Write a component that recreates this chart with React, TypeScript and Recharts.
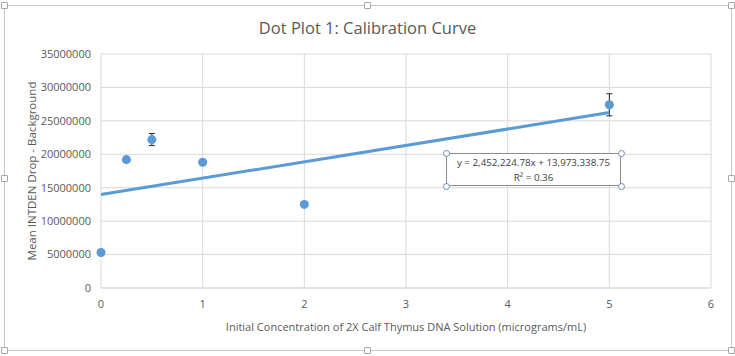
import {
  ScatterChart,
  Scatter,
  XAxis,
  YAxis,
  CartesianGrid,
  ErrorBar,
  Label,
} from "recharts";

// concentrations (micrograms/mL) and mean INTDEN values
const concentrations = [0, 0.25, 0.5, 1, 2, 5];
const meanIntden = [5300000, 19200000, 22200000, 18800000, 12500000, 27400000];
const stdErr = [50000, 350000, 900000, 80000, 300000, 1650000];

// trendline as printed in the chart's equation box
const slope = 2452224.78;
const intercept = 13973338.75;
const trendX = [0, 5];

const xTicks = [0, 1, 2, 3, 4, 5, 6];
const yTicks = [0, 5000000, 10000000, 15000000, 20000000, 25000000, 30000000, 35000000];

const points = concentrations.map((x, i) => ({ x, y: meanIntden[i], err: stdErr[i] }));
const trend = trendX.map((x) => ({ x, y: intercept + slope * x }));

const font = "'Open Sans', 'Liberation Sans', sans-serif";
const blue = "#5b9bd5";
const grid = "#d9d9d9";
const tickText = "#595959";

function Handle({ left, top, round }: { left: number; top: number; round?: boolean }) {
  return (
    <div
      style={{
        position: "absolute",
        left: left - 3,
        top: top - 3,
        width: 5,
        height: 5,
        background: "#fff",
        border: round ? "1px solid #6a8caf" : "1px solid #a6a6a6",
        borderRadius: round ? "50%" : 1,
      }}
    />
  );
}

export default function App() {
  return (
    <div
      style={{
        position: "absolute",
        left: 0,
        top: 0,
        width: 735,
        height: 356,
        background: "#fff",
        fontFamily: font,
      }}
    >
      {/* chart frame */}
      <div
        style={{
          position: "absolute",
          left: 4,
          top: 5,
          width: 726,
          height: 344,
          border: "1px solid #c8c8c8",
        }}
      />
      <Handle left={4} top={5} />
      <Handle left={367} top={5} />
      <Handle left={731} top={5} />
      <Handle left={4} top={178} />
      <Handle left={731} top={178} />
      <Handle left={4} top={350} />
      <Handle left={367} top={350} />
      <Handle left={731} top={350} />

      <div
        style={{
          position: "absolute",
          left: 0,
          top: 16,
          width: 735,
          textAlign: "center",
          fontSize: 16.5,
          lineHeight: "24px",
          color: "#595959",
        }}
      >
        Dot Plot 1: Calibration Curve
      </div>

      <div style={{ position: "absolute", left: 0, top: 0 }}>
        <ScatterChart width={735} height={356} margin={{ top: 54, right: 24, bottom: 0, left: 0 }}>
          <CartesianGrid stroke={grid} />
          <XAxis
            type="number"
            dataKey="x"
            domain={[0, 6]}
            ticks={xTicks}
            height={68}
            tickSize={0}
            tickMargin={12}
            axisLine={{ stroke: grid }}
            tick={{ fill: tickText, fontSize: 11, fontFamily: font }}
          >
            <Label
              value="Initial Concentration of 2X Calf Thymus DNA Solution (micrograms/mL)"
              position="insideBottom"
              offset={25}
              style={{ fill: tickText, fontSize: 11, fontFamily: font }}
            />
          </XAxis>
          <YAxis
            type="number"
            dataKey="y"
            domain={[0, 35000000]}
            ticks={yTicks}
            width={101}
            tickSize={0}
            tickMargin={10}
            axisLine={false}
            tick={{ fill: tickText, fontSize: 11, fontFamily: font }}
          >
            <Label
              value="Mean INTDEN Drop - Background"
              angle={-90}
              position="insideLeft"
              offset={32}
              style={{ fill: tickText, fontSize: 11.5, fontFamily: font, textAnchor: "middle" }}
            />
          </YAxis>
          <Scatter data={points} fill={blue} isAnimationActive={false}>
            <ErrorBar dataKey="err" direction="y" width={3} stroke="#262626" strokeWidth={1} />
          </Scatter>
          <Scatter
            data={trend}
            line={{ stroke: blue, strokeWidth: 3 }}
            shape={() => <g />}
            isAnimationActive={false}
          />
        </ScatterChart>
      </div>

      {/* equation text box */}
      <div
        style={{
          position: "absolute",
          left: 446,
          top: 153,
          width: 175,
          height: 33,
          border: "1px solid #8c8c8c",
          boxSizing: "border-box",
          background: "#fff",
          textAlign: "center",
          fontSize: 9.8,
          lineHeight: "15px",
          color: "#404040",
          paddingTop: 1,
        }}
      >
        <div>y = 2,452,224.78x + 13,973,338.75</div>
        <div>R² = 0.36</div>
      </div>
      <Handle left={446} top={153} round />
      <Handle left={621} top={153} round />
      <Handle left={446} top={186} round />
      <Handle left={621} top={186} round />
    </div>
  );
}
